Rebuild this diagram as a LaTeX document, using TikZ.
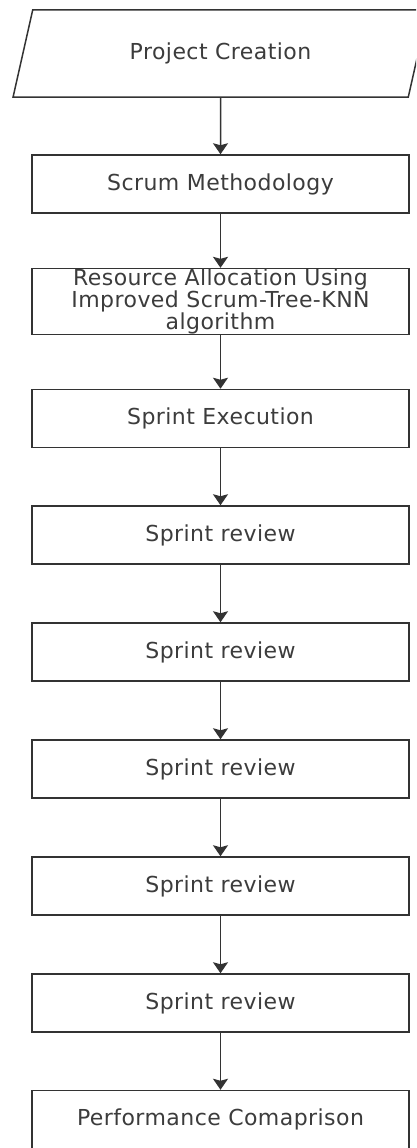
\documentclass[tikz,border=0pt]{standalone}
\usepackage{fontspec}
\setmainfont{DejaVu Sans}[LetterSpace=2]
\usetikzlibrary{shapes.geometric,arrows.meta}
\definecolor{linec}{HTML}{333333}
\definecolor{textc}{HTML}{3C3C3C}
\tikzset{
  stepbox/.style={draw=linec, line width=1.5pt, rectangle, minimum width=377pt, minimum height=58pt, inner sep=0pt, text=textc, align=center, font=\fontsize{22}{20}\selectfont},
  iobox/.style={draw=linec, line width=1.5pt, trapezium, trapezium left angle=66, trapezium right angle=114, trapezium stretches=true, minimum width=416pt, minimum height=87pt, inner sep=0pt, text=textc, font=\fontsize{22}{20}\selectfont},
  arr/.style={draw=linec, line width=1.5pt, -{Stealth[length=11pt,width=15pt,inset=2pt]}}
}
\begin{document}
\begin{tikzpicture}[x=1pt,y=-1pt]
\useasboundingbox (0,0) rectangle (416,1148);
\fill[white] (0,0) rectangle (416,1148);
\begin{scope}
\clip (0,0) rectangle (416,1148);
\node[iobox] (n1) at (220.5,53.5) {Project Creation};
\node[stepbox] (n2) at (220.5,184) {Scrum Methodology};
\node[stepbox] (n3) at (220.5,301.5) {Resource Allocation Using\\Improved Scrum-Tree-KNN\\algorithm};
\node[stepbox] (n4) at (220.5,418.5) {Sprint Execution};
\node[stepbox] (n5) at (220.5,535) {Sprint review};
\node[stepbox] (n6) at (220.5,652) {Sprint review};
\node[stepbox] (n7) at (220.5,769) {Sprint review};
\node[stepbox] (n8) at (220.5,886) {Sprint review};
\node[stepbox] (n9) at (220.5,1003) {Sprint review};
\node[stepbox] (n10) at (220.5,1119.5) {Performance Comaprison};
\draw[arr] (n1) -- (n2);
\draw[arr] (n2) -- (n3);
\draw[arr] (n3) -- (n4);
\draw[arr] (n4) -- (n5);
\draw[arr] (n5) -- (n6);
\draw[arr] (n6) -- (n7);
\draw[arr] (n7) -- (n8);
\draw[arr] (n8) -- (n9);
\draw[arr] (n9) -- (n10);
\end{scope}
\end{tikzpicture}
\end{document}
